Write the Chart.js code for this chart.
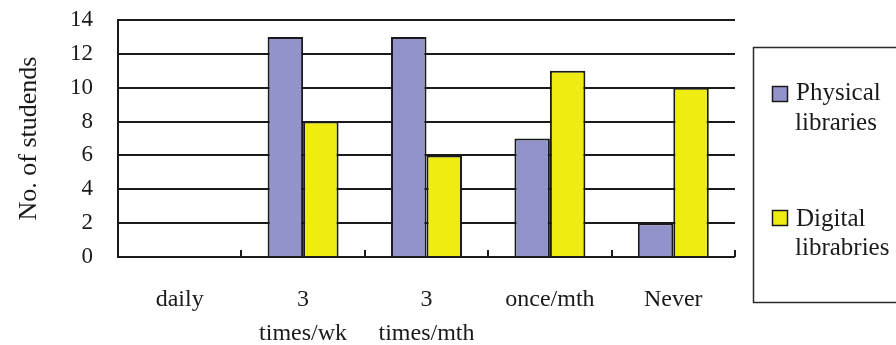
<!DOCTYPE html>
<html>
<head>
<meta charset="utf-8">
<script src="https://cdn.jsdelivr.net/npm/chart.js@4"></script>
<style>
  html, body { margin: 0; padding: 0; background: #fff; }
  #wrap { width: 896px; height: 345px; }
</style>
</head>
<body>
<div id="wrap"><canvas id="c" width="896" height="345"></canvas></div>
<script>
// Frequency of library use
const categories = ['daily', ['3', 'times/wk'], ['3', 'times/mth'], 'once/mth', 'Never'];
const physicalLibraries = [0, 13, 13, 7, 2];
const digitalLibraries = [0, 8, 6, 11, 10];
const seriesLabels = [['Physical', 'libraries'], ['Digital', 'librabries']];
const yTicks = [0, 2, 4, 6, 8, 10, 12, 14];

const FONT = "'Liberation Serif', 'Times New Roman', serif";
const INK = '#1a1a1a';
const PURPLE = '#9393cc';
const YELLOW = '#efec12';

// small upward tick marks on the baseline between categories
const categoryTicks = {
  id: 'categoryTicks',
  afterDatasetsDraw(chart) {
    const { ctx, chartArea } = chart;
    const n = chart.data.labels.length;
    const step = (chartArea.right - chartArea.left) / n;
    ctx.save();
    ctx.strokeStyle = INK;
    ctx.lineWidth = 2;
    for (let i = 1; i <= n; i++) {
      const px = Math.round(chartArea.left + step * i);
      ctx.beginPath();
      ctx.moveTo(px, chartArea.bottom);
      ctx.lineTo(px, chartArea.bottom - 7);
      ctx.stroke();
    }
    ctx.restore();
  }
};

// boxed legend on the right with two-line labels
const boxLegend = {
  id: 'boxLegend',
  afterDraw(chart) {
    const { ctx } = chart;
    ctx.save();
    ctx.strokeStyle = '#2a2a2a';
    ctx.lineWidth = 1.5;
    ctx.strokeRect(753.5, 47.5, 160, 255);
    ctx.font = '25px ' + FONT;
    ctx.textBaseline = 'alphabetic';
    const rows = [{ sq: 86, l1: 100, l2: 130 }, { sq: 210, l1: 226, l2: 255 }];
    chart.data.datasets.forEach((ds, i) => {
      const r = rows[i];
      ctx.fillStyle = ds.backgroundColor;
      ctx.fillRect(772, r.sq, 16, 16);
      ctx.strokeStyle = INK;
      ctx.lineWidth = 1.5;
      ctx.strokeRect(772.5, r.sq + 0.5, 15, 15);
      ctx.fillStyle = INK;
      ctx.fillText(seriesLabels[i][0], 796, r.l1);
      ctx.fillText(seriesLabels[i][1], 795, r.l2);
    });
    ctx.restore();
  }
};

new Chart(document.getElementById('c'), {
  type: 'bar',
  data: {
    labels: categories,
    datasets: [
      { label: 'Physical libraries', data: physicalLibraries, backgroundColor: PURPLE,
        borderColor: INK, borderWidth: 2 },
      { label: 'Digital libraries', data: digitalLibraries, backgroundColor: YELLOW,
        borderColor: INK, borderWidth: 2 }
    ]
  },
  options: {
    responsive: false,
    animation: false,
    devicePixelRatio: 1,
    layout: { padding: { left: 0, right: 161, top: 20, bottom: 0 } },
    categoryPercentage: 0.575,
    barPercentage: 1.0,
    plugins: { legend: { display: false }, tooltip: { enabled: false } },
    scales: {
      x: {
        grid: { display: false },
        border: { display: false },
        ticks: {
          color: INK,
          padding: 17,
          maxRotation: 0,
          autoSkip: false,
          font: { family: FONT, size: 24, lineHeight: 1.45 }
        },
        afterFit(scale) {
          scale.height = 88;
          scale.paddingLeft = 0;
          scale.paddingRight = 0;
        }
      },
      y: {
        min: 0,
        max: 14,
        afterBuildTicks(scale) { scale.ticks = yTicks.map(v => ({ value: v })); },
        grid: { color: INK, lineWidth: 2, drawTicks: false },
        border: { display: true, color: INK, width: 2 },
        ticks: {
          color: INK,
          padding: 25,
          font: { family: FONT, size: 23 }
        },
        title: {
          display: true,
          text: 'No. of studends',
          color: INK,
          padding: { top: 14, bottom: 0 },
          font: { family: FONT, size: 26 }
        },
        afterFit(scale) {
          scale.width = 118;
          scale.paddingTop = 0;
          scale.paddingBottom = 0;
        }
      }
    }
  },
  plugins: [categoryTicks, boxLegend]
});
</script>
</body>
</html>
